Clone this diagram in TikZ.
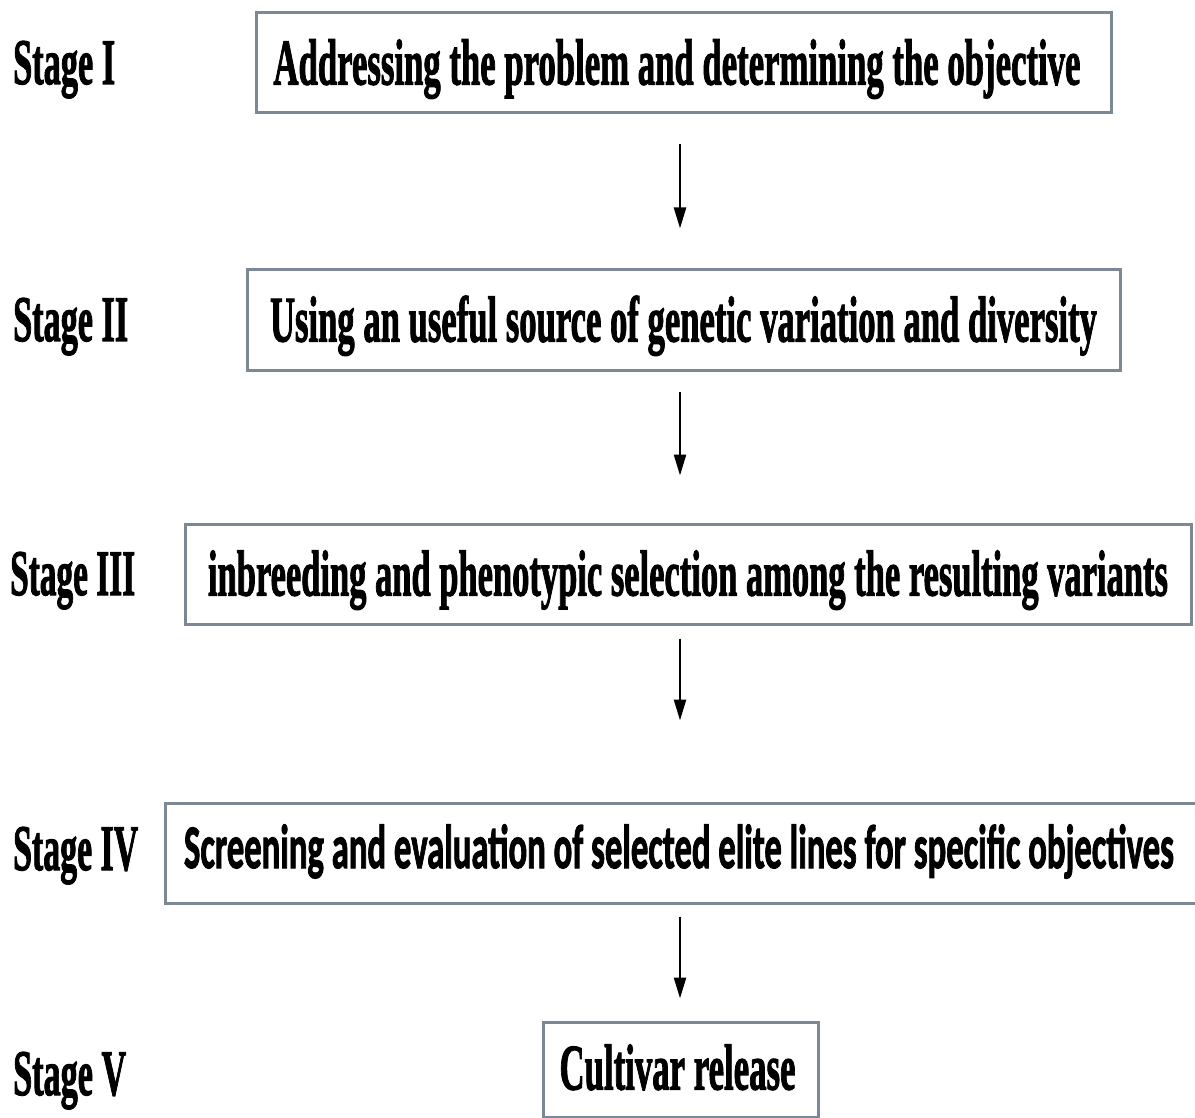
\documentclass[tikz,border=0pt]{standalone}
\usepackage{fontspec}
\usepackage{graphicx}
\usetikzlibrary{arrows.meta}
\setmainfont{Liberation Serif}[BoldFeatures={FakeBold=2}]
\newfontfamily\boxsans{Carlito}[BoldFeatures={FakeBold=2}]
\definecolor{boxline}{RGB}{125,136,150}
\tikzset{
  stagebox/.style={draw=boxline, line width=3pt, fill=white, inner sep=0pt,
    minimum height=100pt, text height=43pt, text depth=0pt, anchor=center},
  stagelabel/.style={inner sep=0pt, anchor=base west},
  flowarrow/.style={line width=2.5pt, -{Triangle[length=21pt,width=12pt]}},
}
\newcommand{\serfit}[2]{{\fontsize{65}{70}\selectfont\bfseries\resizebox{#1pt}{\height}{#2}}}
\newcommand{\sansfit}[2]{{\boxsans\fontsize{62}{66}\selectfont\bfseries\resizebox{#1pt}{\height}{#2}}}
\begin{document}
\begin{tikzpicture}[x=1pt,y=-1pt]
\useasboundingbox (0,0) rectangle (1195,1118);
\clip (0,0) rectangle (1195,1118);
\fill[white] (0,0) rectangle (1195,1118);
% stage labels
\node[stagelabel] (s1) at (13,84)   {\serfit{102}{Stage I}};
\node[stagelabel] (s2) at (13,341)  {\serfit{115}{Stage II}};
\node[stagelabel] (s3) at (10,595)  {\serfit{125}{Stage III}};
\node[stagelabel] (s4) at (13,870)  {\serfit{125}{Stage IV}};
\node[stagelabel] (s5) at (13,1095) {\serfit{113}{Stage V}};
% boxes
\node[stagebox, minimum width=855pt] (b1) at (683.5,63)
  {\serfit{807}{Addressing the problem and determining the objective}\hspace*{13pt}};
\node[stagebox, minimum width=873pt] (b2) at (683.5,320)
  {\serfit{827}{Using an useful source of genetic variation and diversity}};
\node[stagebox, minimum width=1006pt] (b3) at (688,574)
  {\serfit{960}{inbreeding and phenotypic selection among the resulting variants}};
\node[stagebox, minimum width=1040pt, text height=30pt] (b4) at (685,853)
  {\sansfit{990}{Screening and evaluation of selected elite lines for specific objectives}\hspace*{12pt}};
\node[stagebox, minimum width=275pt, minimum height=95pt, text height=40pt] (b5) at (680.5,1069.5)
  {\serfit{236}{Cultivar release}\hspace*{6pt}};
% arrows
\coordinate (ax) at (680,0);
\draw[flowarrow, shorten <=30pt, shorten >=40pt] (b1.south -| ax) -- (b2.north -| ax);
\draw[flowarrow, shorten <=20pt, shorten >=47pt] (b2.south -| ax) -- (b3.north -| ax);
\draw[flowarrow, shorten <=13pt, shorten >=81pt] (b3.south -| ax) -- (b4.north -| ax);
\draw[flowarrow, shorten <=12pt, shorten >=22pt] (b4.south -| ax) -- (b5.north -| ax);
\end{tikzpicture}
\end{document}
